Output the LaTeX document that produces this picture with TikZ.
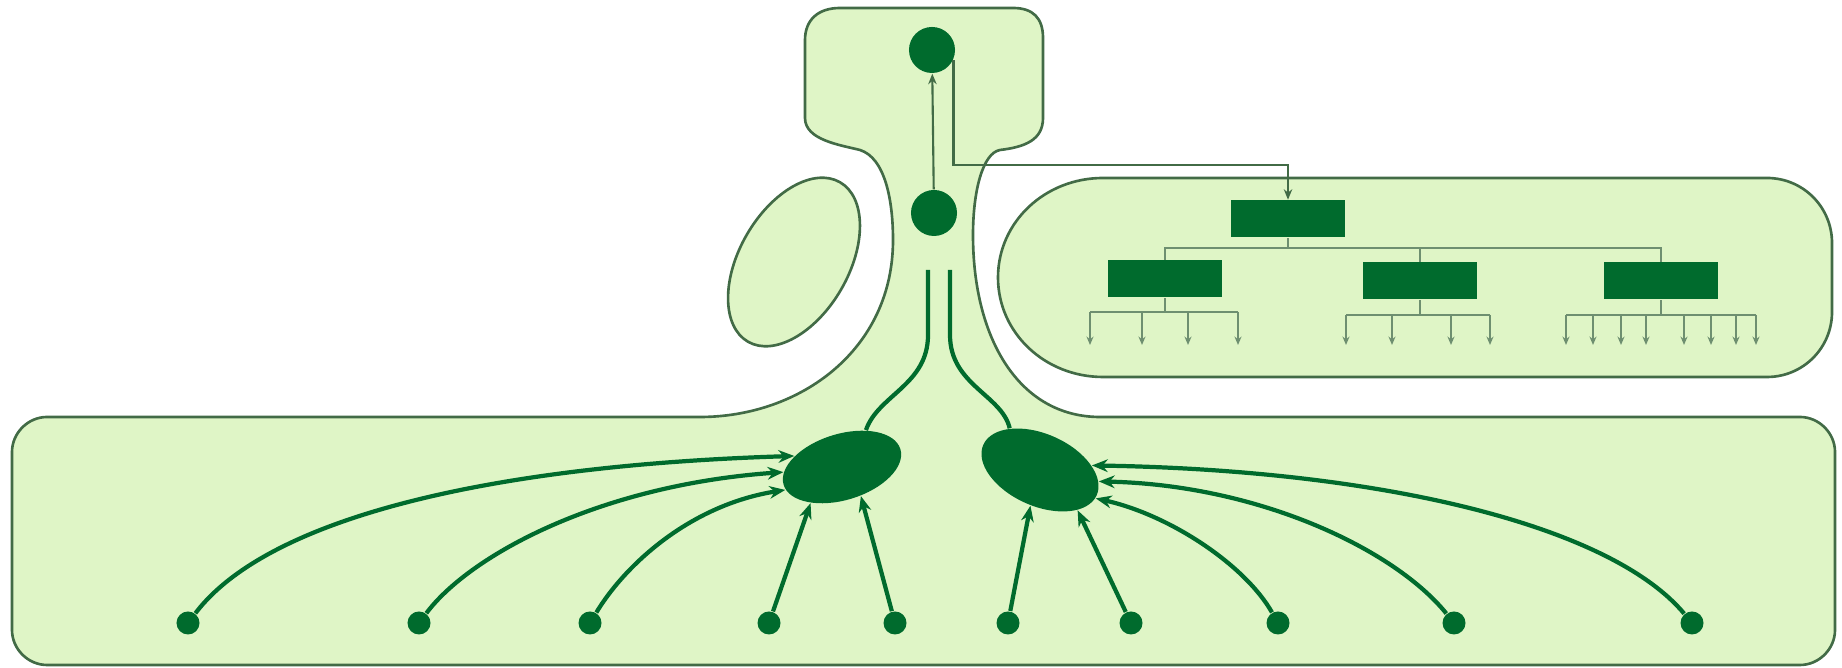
\documentclass[tikz,border=0pt]{standalone}
\usetikzlibrary{arrows.meta,shapes.geometric,calc}
\definecolor{pale}{HTML}{DFF5C6}
\definecolor{deep}{HTML}{006B2D}
\definecolor{edgec}{HTML}{426B46}
\definecolor{busc}{HTML}{6E8F70}
\begin{document}
\begin{tikzpicture}[x=0.01cm,y=-0.01cm,
  region/.style={draw=edgec, fill=pale, line width=0.75pt},
  hub/.style={circle, fill=deep, minimum size=0.46cm, inner sep=0pt},
  dotn/.style={circle, fill=deep, minimum size=0.23cm, inner sep=0pt},
  blob/.style={ellipse, fill=deep, inner sep=0pt},
  unit/.style={rectangle, fill=deep, minimum width=1.13cm, minimum height=0.37cm, inner sep=0pt},
  feed/.style={draw=deep, line width=1.2pt, -{Stealth[length=4.5pt,width=3.6pt]}},
  stem/.style={draw=deep, line width=1.2pt},
  bus/.style={draw=busc, line width=0.8pt},
  leaf/.style={draw=busc, line width=0.6pt, -{Stealth[length=2.4pt,width=2pt,fill=deep]}},
  link/.style={draw=edgec, line width=0.6pt, -{Stealth[length=3pt,width=2.4pt]}}]
\useasboundingbox (0,0) rectangle (1842,668);

% merged outline: bottom box + neck + top box
\path[region] (47,417) -- (700,417)
  .. controls (800,417) and (893,350) .. (893,240)
  .. controls (893,200) and (885,158) .. (860,150)
  .. controls (840,145) and (805,140) .. (805,118)
  -- (805,40) .. controls (805,20) and (818,8) .. (840,8)
  -- (1013,8) .. controls (1033,8) and (1043,18) .. (1043,38)
  -- (1043,118) .. controls (1043,140) and (1025,147) .. (1000,150)
  .. controls (983,153) and (973,190) .. (973,235)
  .. controls (973,340) and (1020,417) .. (1100,417)
  -- (1800,417) .. controls (1819,417) and (1835,433) .. (1835,452)
  -- (1835,630) .. controls (1835,649) and (1819,665) .. (1800,665)
  -- (47,665) .. controls (28,665) and (12,649) .. (12,630)
  -- (12,452) .. controls (12,433) and (28,417) .. (47,417) -- cycle;

% right pill box
\path[region] (1103,178) -- (1767,178)
  .. controls (1803,178) and (1832,207) .. (1832,243)
  -- (1832,312) .. controls (1832,348) and (1803,377) .. (1767,377)
  -- (1103,377) .. controls (1045,377) and (998,333) .. (998,277.5)
  .. controls (998,222) and (1045,178) .. (1103,178) -- cycle;

% hollow tilted ellipse
\node[ellipse, draw=edgec, fill=pale, line width=0.75pt, minimum width=1.84cm, minimum height=1.09cm, inner sep=0pt, rotate=60] (vac) at (794,262) {};

% nodes
\node[hub] (tc) at (932,50) {};
\node[hub] (mc) at (934,213) {};
\node[blob, minimum width=1.22cm, minimum height=0.66cm, rotate=17] (eL) at (842,467) {};
\node[blob, minimum width=1.24cm, minimum height=0.72cm, rotate=-24] (eR) at (1040,470) {};

\node[unit] (tr) at (1288,219) {};
\node[unit] (r1) at (1165,279) {};
\node[unit] (r2) at (1420,281) {};
\node[unit] (r3) at (1661,281) {};

\foreach \x [count=\i] in {188,419,590,769,895,1008,1131,1278,1454,1692}
  \node[dotn] (d\i) at (\x,623) {};

% hub connectors
\draw[link] (mc) -- (tc);
\draw[link] (tc.-25) |- ([yshift=10pt]tr.north) -- (tr.north);

% stems in the neck
\coordinate (s1) at (928,270);
\coordinate (s2) at (950,270);
\draw[stem] (s1) -- (928,335) .. controls (928,385) and (878,395) .. (eL.40);
\draw[stem] (s2) -- (950,335) .. controls (950,385) and (1002,395) .. (eR.150);

% feeds to ellipses
\draw[feed] (d1) .. controls (270,515) and (500,465) .. (eL.150);
\draw[feed] (d2) .. controls (470,555) and (600,485) .. (eL.168);
\draw[feed] (d3) .. controls (625,565) and (690,505) .. (eL.185);
\draw[feed] (d4) -- (eL.212);
\draw[feed] (d5) -- (eL.286);
\draw[feed] (d6) -- (eR.279);
\draw[feed] (d7) -- (eR.337);
\draw[feed] (d8) .. controls (1245,565) and (1170,515) .. (eR.357);
\draw[feed] (d9) .. controls (1395,550) and (1260,485) .. (eR.13);
\draw[feed] (d10) .. controls (1610,525) and (1380,470) .. (eR.29);

% tree in pill box
\coordinate (by) at (0,248);
\coordinate (b1) at (0,312);
\coordinate (b2) at (0,315);
\draw[bus] (tr.south) -- (tr.south |- by);
\draw[bus] (r1.north) -- (r1.north |- by) -- (r3.north |- by) -- (r3.north);
\draw[bus] (r2.north) -- (r2.north |- by);
\draw[bus] (r1.south) -- (r1.south |- b1);
\draw[bus] (r2.south) -- (r2.south |- b2);
\draw[bus] (r3.south) -- (r3.south |- b2);
\draw[bus] (1090,312) -- (1238,312);
\draw[bus] (1346,315) -- (1490,315);
\draw[bus] (1566,315) -- (1756,315);
\foreach \x [count=\i] in {1090,1142,1188,1238} {
  \coordinate (pa\i) at (\x,345);
  \draw[leaf] (pa\i |- b1) -- (pa\i);
}
\foreach \x [count=\i] in {1346,1392,1451,1490} {
  \coordinate (pb\i) at (\x,345);
  \draw[leaf] (pb\i |- b2) -- (pb\i);
}
\foreach \x [count=\i] in {1566,1593,1621,1646,1684,1711,1736,1756} {
  \coordinate (pc\i) at (\x,345);
  \draw[leaf] (pc\i |- b2) -- (pc\i);
}
\end{tikzpicture}
\end{document}
